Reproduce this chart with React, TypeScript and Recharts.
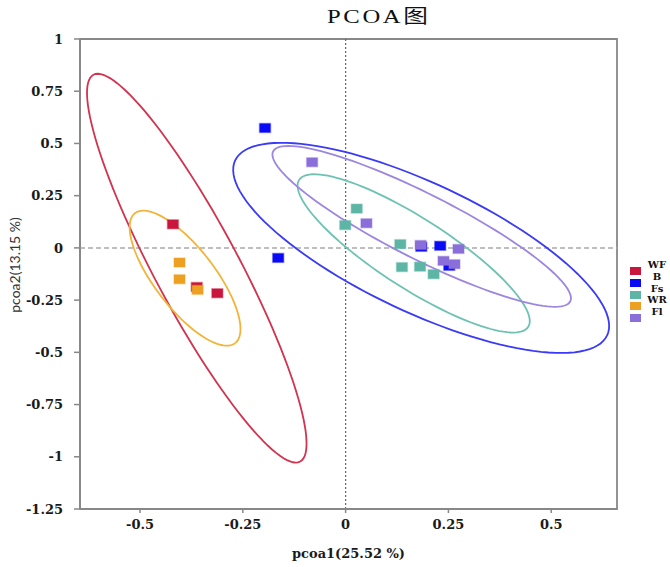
import React from "react";
import {
  ScatterChart,
  Scatter,
  XAxis,
  YAxis,
  ReferenceLine,
  ReferenceArea,
} from "recharts";

// groups, in drawing order (last one sits on top)
const GROUPS = ["WF", "B", "Fs", "WR", "Fl"];
const COLORS = ["#C8163C", "#0A0AF5", "#5DB5A6", "#EEA022", "#8A6FDA"];
const RING_COLORS = ["#D2334F", "#3A3AF8", "#6DC2B2", "#F2B43A", "#9C86E0"];

// sample scores
const WF_X = [-0.42, -0.362, -0.312];
const WF_Y = [0.113, -0.187, -0.217];
const B_X = [-0.196, -0.164, 0.184, 0.23, 0.252];
const B_Y = [0.574, -0.048, 0.005, 0.01, -0.086];
const FS_X = [0.027, -0.001, 0.133, 0.137, 0.181, 0.214];
const FS_Y = [0.188, 0.109, 0.018, -0.092, -0.09, -0.126];
const WR_X = [-0.404, -0.404, -0.36];
const WR_Y = [-0.07, -0.15, -0.201];
const FL_X = [-0.0815, 0.0506, 0.1825, 0.2745, 0.238, 0.2647];
const FL_Y = [0.41, 0.118, 0.014, -0.005, -0.062, -0.078];

// confidence ellipses: centre and two semi-axis vectors, in data units
const RING_CX = [-0.362, 0.1837, 0.1655, -0.3905, 0.185];
const RING_CY = [-0.097, 0.0, -0.0263, -0.145, 0.103];
const RING_U = [
  [0.2513, -0.9258],
  [0.4523, -0.4189],
  [0.2786, -0.3518],
  [0.1217, -0.3112],
  [0.3613, -0.359],
];
const RING_V = [
  [0.0901, 0.0948],
  [-0.0666, -0.2786],
  [-0.046, -0.1408],
  [0.0579, 0.0876],
  [-0.0357, -0.1389],
];

const X_TICKS = [-0.5, -0.25, 0, 0.25, 0.5];
const Y_TICKS = [1, 0.75, 0.5, 0.25, 0, -0.25, -0.5, -0.75, -1, -1.25];
const X_DOMAIN = [-0.646, 0.66];
const Y_DOMAIN = [-1.25, 1];

const XS = [WF_X, B_X, FS_X, WR_X, FL_X];
const YS = [WF_Y, B_Y, FS_Y, WR_Y, FL_Y];

const points = XS.map((xs, g) => xs.map((x, i) => ({ x, y: YS[g][i] })));

const rings = RING_CX.map((cx, g) => {
  const out = [];
  const n = 120;
  for (let k = 0; k <= n; k++) {
    const t = (k / n) * Math.PI * 2;
    const c = Math.cos(t);
    const s = Math.sin(t);
    out.push({
      x: cx + RING_U[g][0] * c + RING_V[g][0] * s,
      y: RING_CY[g] + RING_U[g][1] * c + RING_V[g][1] * s,
    });
  }
  return out;
});

const tickStyle = {
  fill: "#1a1a1a",
  fontFamily: "DejaVu Serif",
  fontWeight: "bold",
  fontSize: 13,
};

const square = (color: string) => (props: any) => (
  <rect
    x={props.cx - 5.5}
    y={props.cy - 4.5}
    width={11}
    height={9}
    fill={color}
    stroke={color}
    strokeOpacity={0.35}
    strokeWidth={1.5}
  />
);

export default function App() {
  return (
    <div style={{ position: "absolute", left: 0, top: 0, width: 670, height: 567, background: "#fff" }}>
      <div
        style={{
          position: "absolute",
          left: 327,
          top: 1,
          fontFamily: "'Liberation Serif', 'Noto Sans CJK SC'",
          fontSize: 19,
          letterSpacing: 2,
          transform: "scaleX(1.3)",
          transformOrigin: "left top",
          color: "#111",
          whiteSpace: "nowrap",
        }}
      >
        PCOA图
      </div>
      <div
        style={{
          position: "absolute",
          left: 14,
          top: 265,
          transform: "translate(-50%, -50%) rotate(-90deg)",
          fontFamily: "Lato",
          fontSize: 14,
          color: "#333",
          whiteSpace: "nowrap",
        }}
      >
        pcoa2(13.15 %)
      </div>
      <ScatterChart width={670} height={567} margin={{ top: 39, right: 53, left: 20, bottom: 8 }}>
        <XAxis
          type="number"
          dataKey="x"
          domain={X_DOMAIN}
          ticks={X_TICKS}
          allowDataOverflow
          height={50}
          tick={tickStyle}
          tickSize={4}
          tickMargin={7}
          axisLine={{ stroke: "#888", strokeWidth: 1.8 }}
          tickLine={{ stroke: "#888", strokeWidth: 1.5 }}
          label={{
            value: "pcoa1(25.52 %)",
            position: "insideBottom",
            offset: 1,
            fill: "#1a1a1a",
            fontFamily: "DejaVu Serif",
            fontWeight: "bold",
            fontSize: 13,
          }}
        />
        <YAxis
          type="number"
          dataKey="y"
          domain={Y_DOMAIN}
          ticks={Y_TICKS}
          allowDataOverflow
          width={60}
          tick={tickStyle}
          tickSize={6}
          tickMargin={11}
          axisLine={{ stroke: "#888", strokeWidth: 1.8 }}
          tickLine={{ stroke: "#888", strokeWidth: 1.5 }}
        />
        <ReferenceArea
          x1={X_DOMAIN[0]}
          x2={X_DOMAIN[1]}
          y1={Y_DOMAIN[0]}
          y2={Y_DOMAIN[1]}
          fill="none"
          stroke="#888"
          strokeWidth={1.8}
        />
        <ReferenceLine y={0} stroke="#aaa" strokeWidth={1.5} strokeDasharray="5 3" />
        <ReferenceLine x={0} stroke="#666" strokeWidth={1.2} strokeDasharray="2 2" />
        {rings.map((ring, g) => (
          <Scatter
            key={"ring" + g}
            data={ring}
            fill="none"
            line={{ stroke: RING_COLORS[g], strokeWidth: 1.8 }}
            lineType="joint"
            shape={() => <g />}
            isAnimationActive={false}
          />
        ))}
        {points.map((pts, g) => (
          <Scatter
            key={GROUPS[g]}
            name={GROUPS[g]}
            data={pts}
            fill={COLORS[g]}
            shape={square(COLORS[g])}
            isAnimationActive={false}
          />
        ))}
      </ScatterChart>
      <div style={{ position: "absolute", left: 630, top: 259 }}>
        {GROUPS.map((name, g) => (
          <div key={name} style={{ position: "relative", height: 11.8, width: 40 }}>
            <div
              style={{
                position: "absolute",
                left: 0,
                top: 8,
                width: 11,
                height: 8,
                background: COLORS[g],
              }}
            />
            <div
              style={{
                position: "absolute",
                left: 16,
                width: 22,
                top: 0,
                textAlign: "center",
                fontFamily: "DejaVu Serif",
                fontWeight: "bold",
                fontSize: 10,
                lineHeight: "11.5px",
                height: 11.5,
                color: "#111",
              }}
            >
              {name}
            </div>
          </div>
        ))}
      </div>
    </div>
  );
}
